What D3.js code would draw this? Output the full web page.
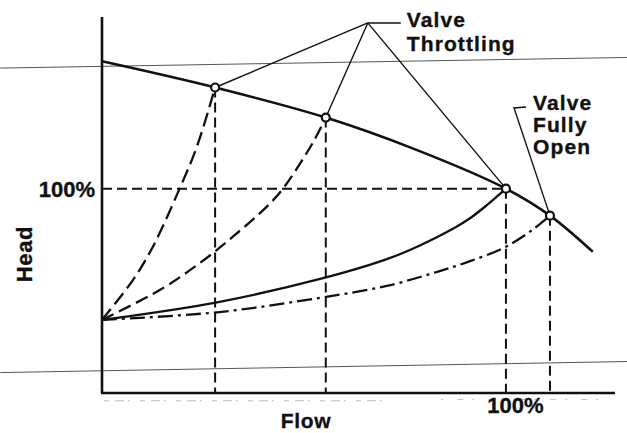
<!DOCTYPE html>
<html>
<head>
<meta charset="utf-8">
<script src="https://cdn.jsdelivr.net/npm/d3@7/dist/d3.min.js"></script>
<style>
  html, body { margin: 0; padding: 0; background: #fff; }
  svg { display: block; }
  text { font-family: "Liberation Sans", Arial, Helvetica, sans-serif; font-weight: bold; fill: #111; stroke: #111; stroke-width: 0.35px; }
</style>
</head>
<body>
<svg id="chart" width="627" height="433"></svg>
<script>
// Pump head curve (flow %, head %)
const pumpFlow = [0, 28.0, 55.4, 77.7, 100, 110.9, 121.5];
const pumpHead = [162.3, 149.5, 134.8, 119.1, 100, 86.8, 69.1];

// System curves for different valve settings
const throttle1Flow = [0, 7.7, 12.6, 19.1, 23.5, 28.0];
const throttle1Head = [35.8, 55.4, 71.6, 99.5, 120.6, 149.5];

const throttle2Flow = [0, 14.4, 24.3, 32.4, 40.8, 44.8, 52.2, 55.4];
const throttle2Head = [35.8, 50.5, 63.7, 76.5, 91.2, 100, 122.5, 134.8];

const designFlow = [0, 28.5, 54.0, 70.5, 78.7, 87.0, 91.1, 95.2, 100];
const designHead = [35.8, 44.4, 55.8, 65.5, 72.2, 80.5, 85.5, 91.8, 100];

const openFlow = [0, 28.5, 54.0, 70.5, 82.8, 91.1, 99.8, 106.8, 110.9];
const openHead = [35.8, 39.5, 46.6, 52.4, 59.2, 64.5, 71.4, 80.2, 86.8];

// Operating points (pump curve ∩ system curve)
const opFlow = [28.0, 55.4, 100, 110.9];
const opHead = [149.5, 134.8, 100, 86.8];

// Axis labels and reference ticks
const flowTickValues = [100];
const flowTickLabels = ["100%"];
const headTickValues = [100];
const headTickLabels = ["100%"];
const axisTitles = ["Flow", "Head"];

// Callout text
const throttleLabel = ["Valve", "Throttling"];
const openLabel = ["Valve", "Fully", "Open"];
const throttleApex = [65.8, 181.1];   // flow, head
const openCorner = [102.0, 139.5];    // flow, head

const svg = d3.select("#chart");

const x = d3.scaleLinear().domain([0, 127]).range([102, 615]);
const y = d3.scaleLinear().domain([0, 184]).range([393, 17]);

const zip = (fx, hy) => fx.map((f, i) => [f, hy[i]]);
const line = d3.line().x(d => x(d[0])).y(d => y(d[1])).curve(d3.curveCatmullRom.alpha(0.5));

// faint ruled lines across the page
const rules = [
  [[-25.2, 159.0], [130.0, 164.2]],
  [[-25.2, 10.0], [130.0, 15.4]]
];
svg.selectAll("line.rule").data(rules).join("line")
  .attr("class", "rule")
  .attr("x1", d => x(d[0][0])).attr("y1", d => y(d[0][1]))
  .attr("x2", d => x(d[1][0])).attr("y2", d => y(d[1][1]))
  .attr("stroke", "#444").attr("stroke-width", 0.9);

// faint speckle under the flow axis
svg.append("line")
  .attr("x1", x(0.5)).attr("x2", x(70)).attr("y1", y(-3.8)).attr("y2", y(-3.8))
  .attr("stroke", "#bbb").attr("stroke-width", 1).attr("stroke-dasharray", "5,6,9,4,2,10");
svg.append("line")
  .attr("x1", x(84)).attr("x2", x(126)).attr("y1", y(-3.2)).attr("y2", y(-3.2))
  .attr("stroke", "#c4c4c4").attr("stroke-width", 1).attr("stroke-dasharray", "2,14,6,9");

// axes (plain lines, no tick marks)
const xAxis = d3.axisBottom(x).tickValues(flowTickValues).tickSize(0).tickFormat((d, i) => flowTickLabels[i]);
const yAxis = d3.axisLeft(y).tickValues(headTickValues).tickSize(0).tickFormat((d, i) => headTickLabels[i]);

const gx = svg.append("g").attr("transform", `translate(0,${y(0)})`).call(xAxis);
gx.select(".domain").attr("stroke", "#111").attr("stroke-width", 2.4).attr("d", `M${x(0) - 1},0H${x(127)}`);
gx.selectAll(".tick text").attr("font-size", 22).attr("dy", 0).attr("y", 20).attr("dx", 9)
  .style("font-family", "'Liberation Sans', Arial, sans-serif").style("font-weight", "bold").attr("fill", "#111");

const gy = svg.append("g").attr("transform", `translate(${x(0)},0)`).call(yAxis);
gy.select(".domain").attr("stroke", "#111").attr("stroke-width", 2.6).attr("d", `M0,${y(0)}V${y(184)}`);
gy.selectAll(".tick text").attr("font-size", 22).attr("x", -7).attr("dy", "0.36em")
  .style("font-family", "'Liberation Sans', Arial, sans-serif").style("font-weight", "bold").attr("fill", "#111");

// axis titles
svg.append("text").attr("x", x(50.5)).attr("y", 428).attr("text-anchor", "middle")
  .attr("font-size", 21).attr("letter-spacing", 0.6).text(axisTitles[0]);
svg.append("text").attr("transform", `translate(31.5,${y(68)}) rotate(-90)`).attr("text-anchor", "middle")
  .attr("font-size", 22).attr("letter-spacing", 0.6).text(axisTitles[1]);

// dashed reference lines
const dash = "10,5";
svg.append("line").attr("x1", x(0)).attr("x2", x(100)).attr("y1", y(100)).attr("y2", y(100))
  .attr("stroke", "#111").attr("stroke-width", 2).attr("stroke-dasharray", dash);
svg.selectAll("line.drop").data(opFlow).join("line").attr("class", "drop")
  .attr("x1", d => x(d)).attr("x2", d => x(d))
  .attr("y1", (d, i) => y(opHead[i])).attr("y2", y(0))
  .attr("stroke", "#111").attr("stroke-width", 2).attr("stroke-dasharray", dash);

// system curves
const systems = [
  { pts: zip(throttle1Flow, throttle1Head), dash: "14,6" },
  { pts: zip(throttle2Flow, throttle2Head), dash: "13,6" },
  { pts: zip(designFlow, designHead), dash: null },
  { pts: zip(openFlow, openHead), dash: "15,5,3,5" }
];
svg.selectAll("path.system").data(systems).join("path").attr("class", "system")
  .attr("d", d => line(d.pts)).attr("fill", "none")
  .attr("stroke", "#111").attr("stroke-width", 2.3)
  .attr("stroke-dasharray", d => d.dash);

// pump curve
svg.append("path").attr("d", line(zip(pumpFlow, pumpHead))).attr("fill", "none")
  .attr("stroke", "#111").attr("stroke-width", 2.5);

// callout leaders
const ax = x(throttleApex[0]), ay = y(throttleApex[1]);
svg.selectAll("line.lead").data(opFlow.slice(0, 3)).join("line").attr("class", "lead")
  .attr("x1", ax).attr("y1", ay)
  .attr("x2", d => x(d)).attr("y2", (d, i) => y(opHead[i]))
  .attr("stroke", "#111").attr("stroke-width", 1.4);
svg.append("line").attr("x1", ax).attr("y1", ay).attr("x2", ax + 33).attr("y2", ay)
  .attr("stroke", "#111").attr("stroke-width", 1.4);

const cx = x(openCorner[0]), cy = y(openCorner[1]);
svg.append("path")
  .attr("d", `M${cx + 12},${cy - 1}L${cx},${cy}L${x(opFlow[3])},${y(opHead[3])}`)
  .attr("fill", "none").attr("stroke", "#111").attr("stroke-width", 1.4);

// operating point markers
svg.selectAll("circle.op").data(opFlow).join("circle").attr("class", "op")
  .attr("cx", d => x(d)).attr("cy", (d, i) => y(opHead[i])).attr("r", 4)
  .attr("fill", "#fff").attr("stroke", "#111").attr("stroke-width", 2.2);

// callout text
svg.append("text").attr("x", ax + 39).attr("y", ay + 4).attr("font-size", 21).attr("letter-spacing", 1.1)
  .selectAll("tspan").data(throttleLabel).join("tspan")
  .attr("x", ax + 39).attr("dy", (d, i) => i ? 24.5 : 0).text(d => d);

svg.append("text").attr("x", cx + 19).attr("y", cy + 2).attr("font-size", 21).attr("letter-spacing", 1.1)
  .selectAll("tspan").data(openLabel).join("tspan")
  .attr("x", cx + 19).attr("dy", (d, i) => i ? 22 : 0).text(d => d);
</script>
</body>
</html>
